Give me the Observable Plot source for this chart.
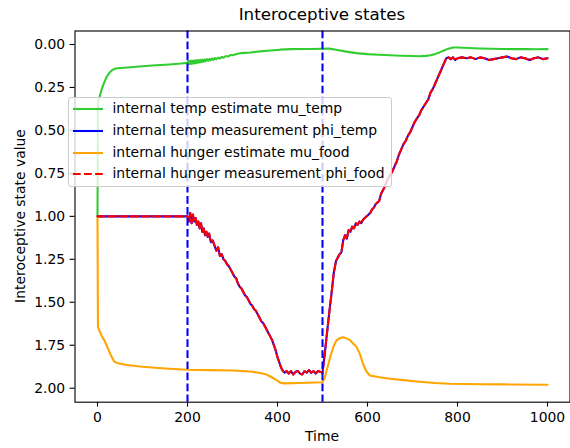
<!DOCTYPE html>
<html><head><meta charset="utf-8">
<script src="https://cdn.jsdelivr.net/npm/d3@7"></script>
<script src="https://cdn.jsdelivr.net/npm/@observablehq/plot@0.6"></script>
<style>
body{margin:0;background:#fff;}
#wrap{position:relative;width:570px;height:448px;font-family:"DejaVu Sans",sans-serif;overflow:hidden;background:#fff;}
#wrap > svg{position:absolute;left:0;top:0;}
.title{position:absolute;left:74.5px;width:495px;top:4px;text-align:center;font-size:16.7px;color:#000;white-space:nowrap;}
.xlabel{position:absolute;left:74.5px;width:495px;top:428px;text-align:center;font-size:13.9px;color:#000;}
.ylabel{position:absolute;left:20px;top:216px;transform:translate(-50%,-50%) rotate(-90deg);font-size:13.9px;color:#000;white-space:nowrap;}
.legend{position:absolute;left:68px;top:97px;width:322px;height:88px;border:1px solid #cccccc;border-radius:3px;background:rgba(255,255,255,0.8);}
.row{position:absolute;left:0;height:20px;width:320px;}
.row svg{position:absolute;left:3px;top:3px;}
.row span{position:absolute;left:43.5px;top:1px;font-size:13.9px;color:#000;white-space:nowrap;line-height:16px;}
</style></head><body><div id="wrap"></div><script>
// ---- data ----
const xTicks = [0, 200, 400, 600, 800, 1000];
const yTicks = [0, 0.25, 0.5, 0.75, 1.0, 1.25, 1.5, 1.75, 2.0];
const eventTimes = [200, 500];

const tMuTemp = [0,1,5,10,15,20,25,30,35,40,50,60,80,100,130,160,185,200,202,204,206,208,210,212,214,216,218,220,222,224,226,228,230,232,234,236,238,240,243,246,249,252,255,258,261,264,268,272,276,280,285,290,295,300,310,320,340,362,385,406,430,450,475,500,515,530,550,575,600,625,650,675,700,715,730,740,750,760,770,780,790,800,825,850,875,900,925,950,975,1000];
const muTemp = [1.0,0.34,0.30,0.255,0.22,0.19,0.17,0.155,0.145,0.14,0.137,0.135,0.131,0.127,0.121,0.116,0.111,0.107,0.096,0.114,0.095,0.113,0.094,0.111,0.093,0.110,0.092,0.108,0.091,0.106,0.090,0.104,0.089,0.102,0.088,0.100,0.087,0.098,0.085,0.095,0.083,0.092,0.081,0.089,0.079,0.086,0.076,0.082,0.072,0.077,0.067,0.070,0.062,0.063,0.055,0.050,0.046,0.040,0.035,0.030,0.027,0.026,0.026,0.025,0.024,0.030,0.040,0.050,0.056,0.060,0.063,0.065,0.067,0.068,0.066,0.062,0.056,0.046,0.035,0.024,0.017,0.017,0.020,0.023,0.025,0.026,0.027,0.027,0.028,0.027,0.025];

const tPhi = [0,200,203,206,209,212,215,218,221,224,227,230,233,236,239,242,245,248,252,256,260,264,268,272,276,280,284,288,292,296,300,304,308,312,316,320,324,328,332,336,340,344,348,352,356,360,364,368,372,376,380,384,388,392,396,400,404,408,412,416,420,425,430,435,440,445,450,455,460,465,470,475,480,485,490,495,500,505,510,515,520,525,530,534,538,542,546,550,554,558,562,566,570,574,578,582,586,590,594,598,602,606,610,614,618,622,626,630,634,638,642,646,650,655,660,665,670,675,680,685,690,695,700,705,710,715,720,725,730,735,740,745,750,755,760,765,770,775,780,785,790,795,800,810,820,830,840,850,860,870,880,890,900,910,920,930,940,950,960,970,980,990,1000];
const phi = [1.0,1.0,1.03,0.98,1.04,0.99,1.03,1.01,1.05,1.03,1.07,1.04,1.09,1.07,1.11,1.09,1.12,1.10,1.15,1.14,1.17,1.20,1.18,1.23,1.22,1.25,1.26,1.28,1.29,1.31,1.33,1.35,1.36,1.39,1.41,1.42,1.44,1.46,1.47,1.49,1.51,1.52,1.54,1.55,1.57,1.59,1.61,1.62,1.64,1.66,1.68,1.70,1.72,1.75,1.78,1.82,1.85,1.88,1.90,1.91,1.90,1.915,1.90,1.92,1.905,1.90,1.915,1.92,1.90,1.91,1.895,1.91,1.90,1.915,1.90,1.905,1.91,1.80,1.68,1.56,1.45,1.33,1.26,1.24,1.22,1.21,1.14,1.11,1.13,1.08,1.09,1.06,1.07,1.04,1.05,1.03,1.04,1.02,1.01,1.00,0.99,0.98,0.96,0.95,0.93,0.92,0.91,0.87,0.85,0.83,0.80,0.78,0.76,0.74,0.71,0.68,0.64,0.61,0.58,0.56,0.53,0.51,0.48,0.45,0.43,0.41,0.38,0.36,0.34,0.32,0.28,0.26,0.23,0.20,0.17,0.14,0.11,0.08,0.075,0.085,0.075,0.09,0.08,0.075,0.08,0.075,0.085,0.075,0.08,0.09,0.085,0.08,0.075,0.07,0.08,0.085,0.075,0.08,0.09,0.08,0.075,0.085,0.08];

const tMuFood = [0,1,5,10,15,20,25,30,37,45,66,100,150,200,250,300,340,362,375,384,395,406,415,450,500,505,510,517,524,531,538,546,553,561,568,576,583,590,597,605,627,650,680,709,750,783,850,900,1000];
const muFood = [1.0,1.645,1.67,1.70,1.72,1.75,1.78,1.81,1.845,1.855,1.865,1.875,1.885,1.893,1.895,1.897,1.903,1.912,1.92,1.932,1.948,1.968,1.972,1.97,1.965,1.94,1.89,1.82,1.76,1.722,1.71,1.703,1.71,1.72,1.74,1.761,1.80,1.858,1.90,1.926,1.936,1.945,1.953,1.961,1.97,1.974,1.977,1.978,1.98];

const tPhiFood = tPhi;
const phiFood = phi;

const seriesNames = ["internal temp estimate mu_temp","internal temp measurement phi_temp","internal hunger estimate mu_food","internal hunger measurement phi_food"];
const seriesColors = ["#32cd32","blue","orange","red"];
const seriesDash = [null,null,null,"7.7,3.33"];

// ---- chart ----
const LW = 2.08;
const wrap = document.getElementById("wrap");
const chart = Plot.plot({
  width: 570, height: 448,
  marginLeft: 74.5, marginRight: 0.5, marginTop: 30.5, marginBottom: 46.3,
  style: {fontFamily: "DejaVu Sans", fontSize: "13.9px", background: "transparent", color: "black"},
  x: {domain: [-50, 1050], label: null},
  y: {domain: [-0.0786, 2.0815], reverse: true, label: null},
  marks: [
    Plot.line(d3.zip(tMuTemp, muTemp), {stroke: seriesColors[0], strokeWidth: LW}),
    Plot.line(d3.zip(tPhi, phi), {stroke: seriesColors[1], strokeWidth: LW}),
    Plot.line(d3.zip(tMuFood, muFood), {stroke: seriesColors[2], strokeWidth: LW}),
    Plot.line(d3.zip(tPhiFood, phiFood), {stroke: seriesColors[3], strokeWidth: LW, strokeDasharray: seriesDash[3]}),
    Plot.ruleX(eventTimes, {stroke: "blue", strokeWidth: LW, strokeDasharray: "7.7,3.33"}),
    Plot.axisX({ticks: xTicks, tickSize: 4.9, tickPadding: 4.9, label: null, strokeWidth: 1.11, fontSize: 13.9, tickFormat: d3.format("d")}),
    Plot.axisY({ticks: yTicks, tickSize: 4.9, tickPadding: 4.9, label: null, strokeWidth: 1.11, fontSize: 13.9, tickFormat: d3.format(".2f")}),
    Plot.frame({stroke: "black", strokeWidth: 1.11})
  ]
});
wrap.appendChild(chart);

const t = document.createElement("div"); t.className = "title"; t.textContent = "Interoceptive states"; wrap.appendChild(t);
const xl = document.createElement("div"); xl.className = "xlabel"; xl.textContent = "Time"; wrap.appendChild(xl);
const yl = document.createElement("div"); yl.className = "ylabel"; yl.textContent = "Interoceptive state value"; wrap.appendChild(yl);

const lg = document.createElement("div"); lg.className = "legend"; wrap.appendChild(lg);
const rowTops = [1, 23, 44.5, 65.5];
seriesNames.forEach((name, i) => {
  const r = document.createElement("div"); r.className = "row"; r.style.top = rowTops[i] + "px";
  r.innerHTML = `<svg width="34" height="14"><line x1="1" x2="31" y1="7" y2="7" stroke="${seriesColors[i]}" stroke-width="${LW}" ${seriesDash[i] ? `stroke-dasharray="${seriesDash[i]}"` : ""}/></svg><span>${name}</span>`;
  lg.appendChild(r);
});
</script></body></html>
